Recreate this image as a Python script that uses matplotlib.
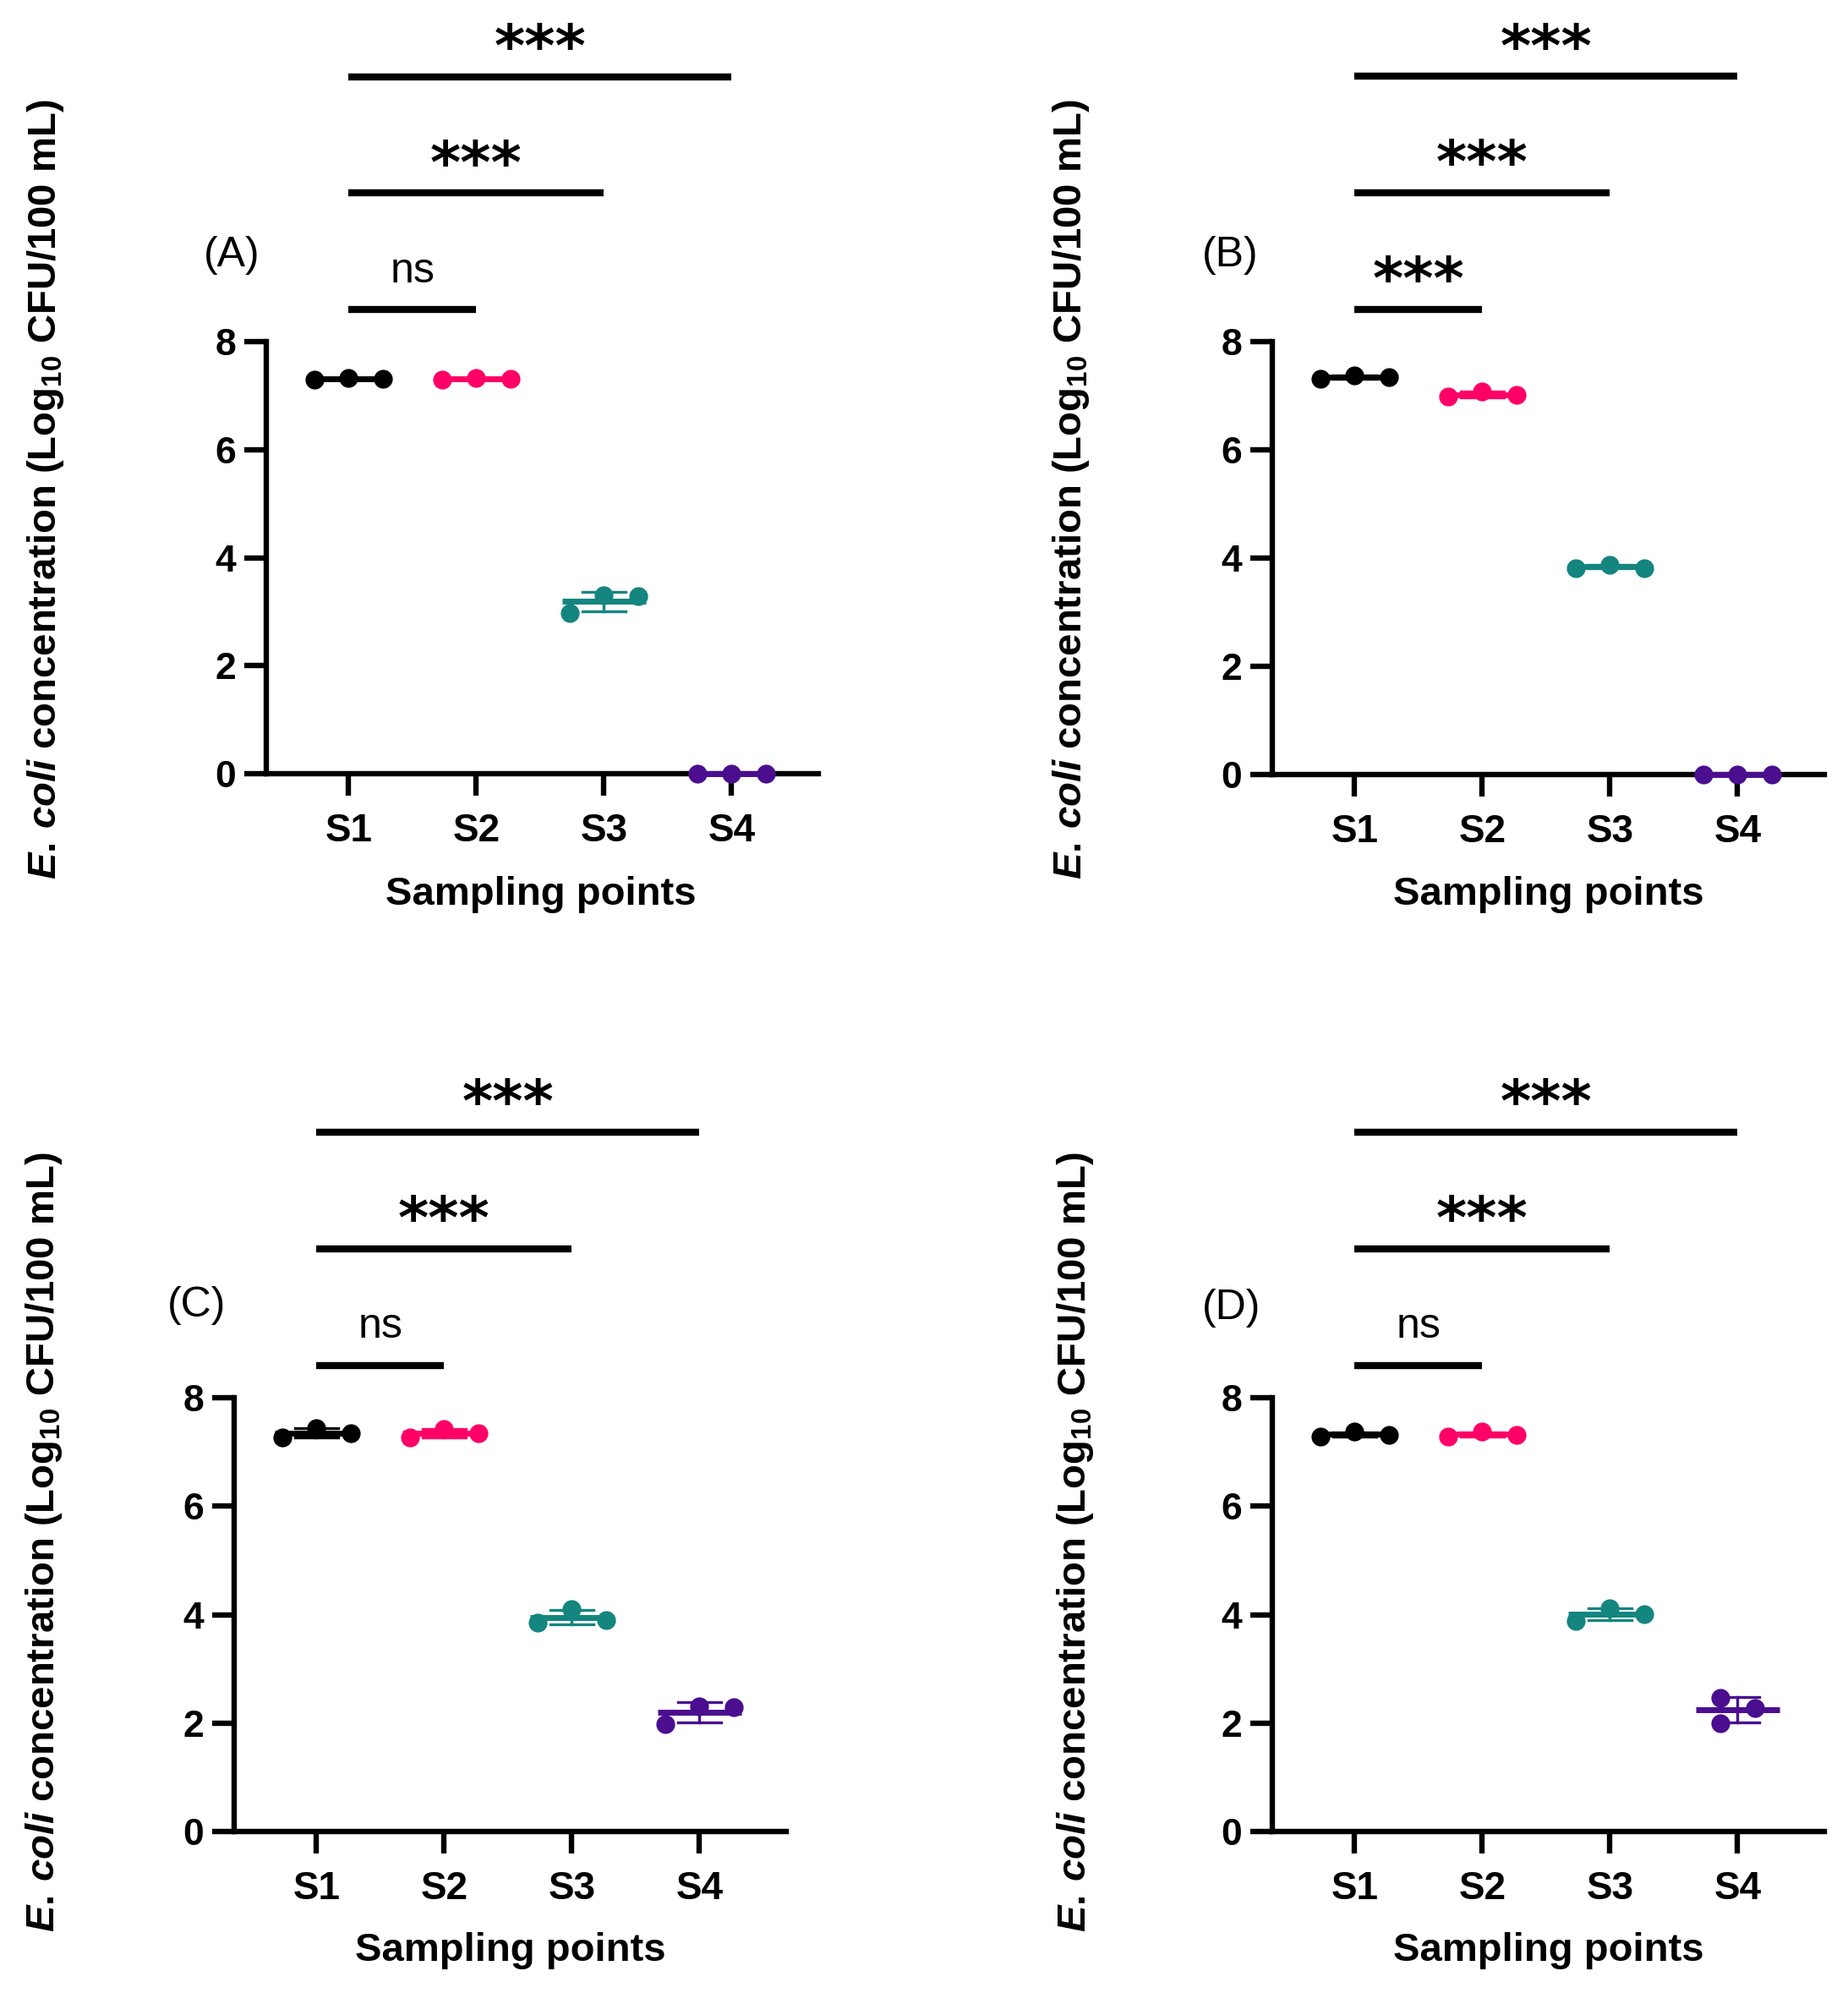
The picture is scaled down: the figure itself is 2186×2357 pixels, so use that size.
import matplotlib
matplotlib.use('Agg')
import matplotlib.pyplot as plt
import numpy as np

plt.rcParams['font.family'] = ['Liberation Sans', 'DejaVu Sans']
plt.rcParams['mathtext.fontset'] = 'custom'
plt.rcParams['mathtext.it'] = 'Liberation Sans:italic:bold'
plt.rcParams['mathtext.bf'] = 'Liberation Sans:bold'
plt.rcParams['mathtext.rm'] = 'Liberation Sans:bold'

# ---------------- data ----------------
categories = ['S1', 'S2', 'S3', 'S4']
colors = ['#000000', '#FF0066', '#14857F', '#4A0E8F']

panel_A = [[7.30, 7.33, 7.31], [7.30, 7.32, 7.31], [2.98, 3.31, 3.28], [0.0, 0.0, 0.0]]
panel_B = [[7.31, 7.37, 7.35], [6.98, 7.08, 7.01], [3.82, 3.88, 3.82], [0.0, 0.0, 0.0]]
panel_C = [[7.27, 7.44, 7.34], [7.26, 7.42, 7.34], [3.85, 4.10, 3.90], [1.98, 2.31, 2.29]]
panel_D = [[7.29, 7.37, 7.31], [7.29, 7.37, 7.31], [3.89, 4.11, 4.01], [2.00, 2.47, 2.28]]

sig_pairs = [(0, 1), (0, 2), (0, 3)]
sig_A = ['ns', '***', '***']
sig_B = ['***', '***', '***']
sig_C = ['ns', '***', '***']
sig_D = ['ns', '***', '***']

panel_names = ['(A)', '(B)', '(C)', '(D)']
ylabel_text = r'$\mathit{E.\,coli}$ concentration (Log$_{\mathbf{10}}$ CFU/100 mL)'
xlabel_text = 'Sampling points'

# ---------------- layout ----------------
W, H = 2186, 2357
DPI = 200
fig = plt.figure(figsize=(W / DPI, H / DPI), dpi=DPI)

XLIM = (-0.645, 3.68)
SPACING = 151.0


def fx(x):
    return x / W


def fy(y):
    return 1 - y / H


panels = [
    dict(data=panel_A, sig=sig_A, left=315, top=404, bottom=915, name_xy=(241, 315), ylab_xy=(54, 579), xlab_xy=(640, 1058)),
    dict(data=panel_B, sig=sig_B, left=1505, top=404, bottom=916, name_xy=(1422, 315), ylab_xy=(1267, 579), xlab_xy=(1832, 1058)),
    dict(data=panel_C, sig=sig_C, left=277, top=1653, bottom=2166, name_xy=(198, 1557), ylab_xy=(52, 1824), xlab_xy=(604, 2307)),
    dict(data=panel_D, sig=sig_D, left=1505, top=1653, bottom=2166, name_xy=(1422, 1560), ylab_xy=(1272, 1824), xlab_xy=(1832, 2307)),
]

AX_LW = 2.3
BAR_LW = 3.0
STEP = 0.27
THR = 0.4


def swarm(vals, step=STEP, thr=THR):
    vals = np.asarray(vals, dtype=float)
    order = np.argsort(-vals, kind='stable')
    placed = []
    offs = np.zeros(len(vals))
    for i in order:
        chosen = 0.0
        for k in [0, 1, -1, 2, -2, 3, -3]:
            x = k * step
            ok = True
            for px, py in placed:
                if abs(x - px) < 1e-9 and abs(vals[i] - py) < thr:
                    ok = False
                    break
            if ok:
                chosen = x
                break
        offs[i] = chosen
        placed.append((chosen, vals[i]))
    return offs - (offs.max() + offs.min()) / 2


bar_heights = [8.6, 10.75, 12.9]

for p, name in zip(panels, panel_names):
    width_px = (XLIM[1] - XLIM[0]) * SPACING
    ax = fig.add_axes([fx(p['left']), fy(p['bottom']), width_px / W, (p['bottom'] - p['top']) / H])
    ax.set_xlim(*XLIM)
    ax.set_ylim(0, 8)
    for s in ['top', 'right']:
        ax.spines[s].set_visible(False)
    for s in ['left', 'bottom']:
        ax.spines[s].set_linewidth(AX_LW)
    ax.set_yticks([0, 2, 4, 6, 8])
    ax.set_xticks(range(len(categories)))
    ax.set_xticklabels(categories, fontsize=16.5, fontweight='bold')
    ax.set_yticklabels(['0', '2', '4', '6', '8'], fontsize=16, fontweight='bold')
    ax.tick_params(axis='both', length=9.5, width=AX_LW)
    ax.tick_params(axis='x', pad=7)
    ax.tick_params(axis='y', pad=3.5)

    for i, (vals, col) in enumerate(zip(p['data'], colors)):
        vals = np.asarray(vals)
        offs = swarm(vals)
        m = vals.mean()
        sd = vals.std(ddof=1)
        ax.plot(i + offs, vals, 'o', color=col, ms=8, mew=0, clip_on=False, zorder=5)
        ax.plot([i - 0.33, i + 0.33], [m, m], color=col, lw=2.5, solid_capstyle='butt', clip_on=False, zorder=6)
        if sd > 0:
            ax.plot([i, i], [m - sd, m + sd], color=col, lw=1.2, clip_on=False, zorder=6)
            ax.plot([i - 0.17, i + 0.17], [m + sd, m + sd], color=col, lw=1.2, clip_on=False, zorder=6)
            ax.plot([i - 0.17, i + 0.17], [m - sd, m - sd], color=col, lw=1.2, clip_on=False, zorder=6)

    for (a, b), lab, h in zip(sig_pairs, p['sig'], bar_heights):
        ax.plot([a, b], [h, h], color='black', lw=BAR_LW, solid_capstyle='butt', clip_on=False)
        if lab == 'ns':
            ax.text((a + b) / 2, h + 0.5, lab, ha='center', va='baseline', fontsize=18, clip_on=False)
        else:
            ax.text((a + b) / 2, h + 0.2, lab, ha='center', va='baseline', fontsize=25,
                    fontweight='bold', family='DejaVu Sans', clip_on=False)

    fig.text(fx(p['name_xy'][0]), fy(p['name_xy'][1]), name, ha='left', va='baseline', fontsize=18)
    fig.text(fx(p['ylab_xy'][0]), fy(p['ylab_xy'][1]), ylabel_text, rotation=90, ha='center', va='center',
             fontsize=17, fontweight='bold')
    fig.text(fx(p['xlab_xy'][0]), fy(p['xlab_xy'][1]), xlabel_text, ha='center', va='center',
             fontsize=17, fontweight='bold')

fig.savefig('out.png', dpi=DPI, facecolor='white')
